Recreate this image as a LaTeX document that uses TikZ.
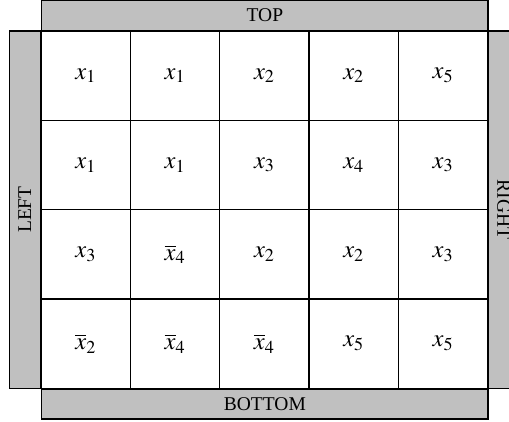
\documentclass[tikz,border=0pt]{standalone}
\usepackage{mathptmx}
\usepackage{fontspec}
\setmainfont{Liberation Serif}
\usetikzlibrary{positioning}
\definecolor{bargray}{HTML}{C0C0C0}

\begin{document}
\begin{tikzpicture}[x=1pt, y=-1pt,
    cell/.style={draw, line width=1.4pt, minimum size=89.3pt, inner sep=0pt,
                 font=\fontsize{24.5}{28}\selectfont},
    bar/.style={draw, fill=bargray, line width=1.4pt, inner sep=0pt,
                font=\fontsize{19.5}{22}\selectfont}]
  \useasboundingbox (0,0) rectangle (509,421);
  % side bars
  \node[bar, minimum width=446.3pt, minimum height=30pt, anchor=south west]
       (top) at (41,31) {TOP};
  \node[bar, minimum width=446.3pt, minimum height=30pt, anchor=north west]
       (bottom) at (41,388.2) {BOTTOM};
  \node[bar, minimum width=357.2pt, minimum height=31pt, rotate=90, anchor=south]
       (left) at (41,209.6) {LEFT};
  \node[bar, minimum width=357.2pt, minimum height=31pt, rotate=-90, anchor=south]
       (right) at (487.5,209.6) {RIGHT};
  % grid
  \foreach \c/\r/\v in {0/0/x_1, 1/0/x_1, 2/0/x_2, 3/0/x_2, 4/0/x_5,
                        0/1/x_1, 1/1/x_1, 2/1/x_3, 3/1/x_4, 4/1/x_3,
                        0/2/x_3, 1/2/{\overline{x}_4}, 2/2/x_2, 3/2/x_2, 4/2/x_3,
                        0/3/{\overline{x}_2}, 1/3/{\overline{x}_4}, 2/3/{\overline{x}_4}, 3/3/x_5, 4/3/x_5}
    \node[cell] (c\r\c) at ({41+89.3*(\c+0.5)}, {31+89.3*(\r+0.5)}) {$\v$};
\end{tikzpicture}
\end{document}
